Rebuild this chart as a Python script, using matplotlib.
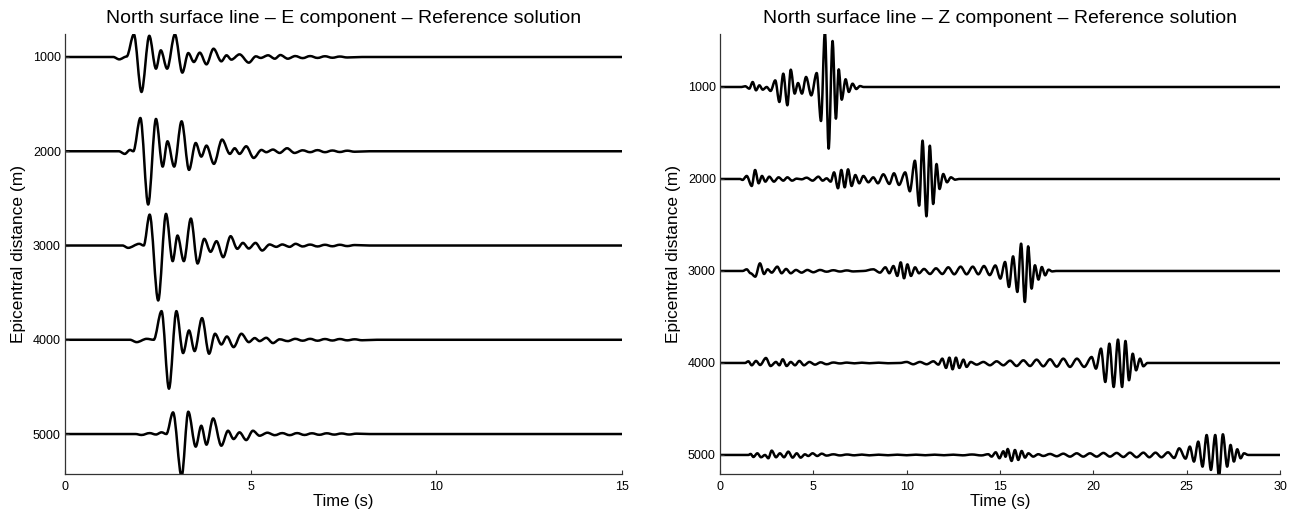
import matplotlib
matplotlib.use("Agg")
import numpy as np
import matplotlib.pyplot as plt
from matplotlib.path import Path
from matplotlib.patches import PathPatch

plt.rcParams["font.family"] = ["Liberation Sans", "DejaVu Sans"]

# ----------------------------
# Data: trace extrema, (time s, amplitude m, up positive)
# ----------------------------
distances = [1000, 2000, 3000, 4000, 5000]

# E component, 0-15 s
e_1000 = [(0, 0), (1.30, 0), (1.46, -25), (1.66, 5), (1.855, 240), (2.06, -371), (2.27, 225),
          (2.45, -124), (2.58, 71), (2.75, -124), (2.96, 240), (3.16, -166), (3.32, 42), (3.47, -53),
          (3.63, 46), (3.81, -78), (4.00, 88), (4.21, -46), (4.35, 18), (4.48, -28), (4.70, 28),
          (4.95, -60), (5.14, 7), (5.27, -10), (5.47, 18), (5.65, -18), (5.80, 21), (6.00, -18),
          (6.2, 10), (6.4, -12), (6.6, 10), (6.8, -10), (7.0, 8), (7.2, -8), (7.4, 5), (7.6, -5),
          (8.0, 0), (15, 0)]
e_2000 = [(0, 0), (1.45, 0), (1.61, -28), (1.75, 14), (1.84, 0), (2.03, 353), (2.24, -565),
          (2.45, 343), (2.63, -163), (2.76, 106), (2.94, -163), (3.14, 318), (3.34, -198), (3.52, 88),
          (3.67, -57), (3.81, 60), (4.01, -134), (4.23, 124), (4.44, -28), (4.57, 32), (4.70, -28),
          (4.88, 53), (5.08, -71), (5.29, 14), (5.42, -10), (5.60, 18), (5.78, -18), (5.98, 32),
          (6.18, -18), (6.4, 10), (6.6, -10), (6.8, 12), (7.0, -10), (7.2, 8), (7.4, -8), (7.6, 6),
          (7.8, -5), (8.2, 0), (15, 0)]
e_3000 = [(0, 0), (1.55, 0), (1.70, -25), (2.00, 18), (2.12, 0), (2.28, 328), (2.51, -583),
          (2.72, 336), (2.90, -166), (3.03, 106), (3.20, -166), (3.39, 286), (3.57, -191), (3.75, 71),
          (3.92, -67), (4.08, 46), (4.26, -124), (4.46, 99), (4.64, -35), (4.79, 28), (4.95, -32),
          (5.13, 28), (5.31, -53), (5.51, 11), (5.69, -14), (5.85, 11), (6.05, -14), (6.21, 18),
          (6.4, -10), (6.6, 10), (6.8, -10), (7.0, 8), (7.2, -8), (7.4, 8), (7.6, -6), (7.8, 5),
          (8.2, 0), (15, 0)]
e_4000 = [(0, 0), (1.75, 0), (1.93, -25), (2.20, 10), (2.39, 0), (2.60, 304), (2.80, -519),
          (3.00, 304), (3.18, -141), (3.34, 99), (3.49, -120), (3.69, 230), (3.88, -148), (4.04, 64),
          (4.21, -50), (4.36, 35), (4.54, -78), (4.75, 64), (4.95, -25), (5.11, 18), (5.24, -14),
          (5.42, 21), (5.60, -35), (5.78, 5), (6.0, -14), (6.2, 10), (6.4, -10), (6.6, 10),
          (6.8, -10), (7.0, 8), (7.2, -8), (7.4, 8), (7.6, -6), (7.8, 5), (8.0, -5), (8.4, 0), (15, 0)]
e_5000 = [(0, 0), (1.9, 0), (2.06, -10), (2.28, 10), (2.45, -5), (2.60, 18), (2.73, 0), (2.91, 230),
          (3.14, -450), (3.32, 237), (3.52, -134), (3.67, 88), (3.81, -113), (3.99, 166), (4.21, -124),
          (4.39, 35), (4.54, -53), (4.70, 18), (4.88, -64), (5.06, 35), (5.24, -18), (5.45, 14),
          (5.65, -12), (5.85, 10), (6.05, -12), (6.25, 10), (6.45, -10), (6.65, 8), (6.85, -8),
          (7.05, 8), (7.25, -6), (7.45, 6), (7.65, -5), (7.85, 4), (8.2, 0), (15, 0)]

# Z component, 0-30 s
z_1000 = [(0, 0), (1.16, 0), (1.35, 8), (1.57, -18), (1.75, 54), (1.93, -36), (2.11, 18), (2.29, -29),
          (2.50, 0), (2.71, -43), (2.96, 72), (3.18, -163), (3.39, 145), (3.61, -199), (3.79, 188),
          (4.00, -72), (4.18, 43), (4.39, -72), (4.61, 109), (4.89, -91), (5.18, 152), (5.41, -370),
          (5.62, 600), (5.82, -670), (6.03, 500), (6.21, -344), (6.36, 192), (6.52, -138), (6.73, 84),
          (6.90, -54), (7.10, 36), (7.30, -22), (7.50, 10), (7.70, 0), (30, 0)]
z_2000 = [(0, 0), (1.07, 0), (1.21, -10), (1.43, 33), (1.70, -76), (1.88, 98), (2.07, -47), (2.25, 33),
          (2.43, -29), (2.64, 25), (2.89, -29), (3.14, 18), (3.39, -18), (3.61, 18), (3.86, -18),
          (4.11, 4), (4.37, -4), (4.64, 14), (4.96, -18), (5.27, 25), (5.50, -18), (5.71, 7),
          (5.93, -29), (6.11, 72), (6.32, -101), (6.50, 98), (6.68, -91), (6.86, 105), (7.05, -76),
          (7.25, 43), (7.46, -47), (7.68, 33), (7.95, -36), (8.21, 18), (8.46, -47), (8.75, 51),
          (9.07, -54), (9.32, 62), (9.59, -65), (9.92, 72), (10.17, -134), (10.44, 199), (10.67, -290),
          (10.85, 417), (11.06, -406), (11.24, 362), (11.42, -272), (11.60, 163), (11.76, -109),
          (11.96, 54), (12.16, -36), (12.37, 18), (12.60, -8), (12.80, 0), (30, 0)]
z_3000 = [(0, 0), (1.21, 0), (1.43, 18), (1.64, -25), (1.89, -62), (2.14, 83), (2.36, -33), (2.55, 18),
          (2.77, -18), (3.07, 47), (3.30, -25), (3.54, 22), (3.79, -25), (4.07, 11), (4.37, -18),
          (4.68, 11), (5.0, -14), (5.36, 11), (5.71, -8), (6.07, 8), (6.43, -6), (6.79, 6), (7.14, -5),
          (7.68, 0), (8.21, 18), (8.57, -18), (8.86, 40), (9.07, -25), (9.29, 54), (9.50, -54),
          (9.68, 94), (9.86, -80), (10.04, 72), (10.23, -54), (10.45, 40), (10.66, -25), (10.93, 22),
          (11.25, -33), (11.57, 29), (11.91, -33), (12.23, 40), (12.55, -36), (12.89, 47), (13.21, -36),
          (13.54, 47), (13.84, -36), (14.14, 54), (14.45, -45), (14.75, 60), (15.02, -83), (15.27, 98),
          (15.48, -174), (15.70, 159), (15.93, -228), (16.13, 297), (16.33, -337), (16.51, 268),
          (16.69, -192), (16.87, 62), (17.06, -94), (17.24, 43), (17.42, -47), (17.6, 14), (17.8, -5),
          (18.0, 0), (30, 0)]
z_4000 = [(0, 0), (1.34, 0), (1.52, 18), (1.70, -25), (1.93, 22), (2.15, -22), (2.46, 54), (2.71, -33),
          (3.0, 11), (3.18, -25), (3.36, 40), (3.57, -33), (3.79, 11), (4.02, -25), (4.25, 22),
          (4.5, -25), (4.79, 11), (5.09, -18), (5.39, 7), (5.71, -14), (6.07, 5), (6.43, -5), (6.8, 4),
          (7.2, -4), (7.6, 3), (8.0, -3), (8.5, 3), (9.0, -3), (9.64, 0), (10.0, 11), (10.35, -14),
          (10.71, 11), (11.07, -14), (11.43, 18), (11.70, -18), (11.91, 47), (12.11, -54), (12.29, 58),
          (12.46, -69), (12.64, 58), (12.82, -54), (13.04, 36), (13.21, -43), (13.43, 11), (13.75, -18),
          (14.11, 11), (14.46, -25), (14.82, 18), (15.18, -25), (15.54, 25), (15.89, -33), (16.25, 29),
          (16.61, -33), (16.96, 36), (17.32, -36), (17.68, 40), (18.04, -40), (18.39, 47), (18.75, -43),
          (19.12, 47), (19.51, -43), (19.91, 65), (20.14, -62), (20.41, 156), (20.64, -207),
          (20.86, 210), (21.09, -261), (21.32, 254), (21.54, -261), (21.72, 239), (21.91, -188),
          (22.11, 101), (22.29, -80), (22.5, 47), (22.68, -36), (22.9, 0), (30, 0)]
z_5000 = [(0, 0), (1.52, 0), (1.64, 11), (1.79, -22), (2.0, 18), (2.2, -25), (2.41, 0), (2.59, -36),
          (2.77, 47), (3.0, -25), (3.21, 18), (3.43, -25), (3.66, 36), (3.89, -29), (4.11, 18),
          (4.32, -29), (4.55, 7), (4.73, -11), (4.96, 18), (5.21, -11), (5.45, 14), (5.71, -7),
          (6.07, 7), (6.43, -5), (6.8, 5), (7.2, -4), (7.6, 4), (8.0, -4), (8.5, 3), (9.0, -3),
          (9.5, 3), (10.0, -3), (10.5, 3), (11.0, -3), (11.5, 3), (12.0, -3), (12.5, 3), (13.0, -4),
          (13.5, 5), (14.0, -5), (14.37, 8), (14.55, -18), (14.77, 29), (14.97, -36), (15.18, 40),
          (15.30, -20), (15.41, 65), (15.62, -65), (15.80, 54), (15.98, -54), (16.16, 43), (16.34, -29),
          (16.52, 18), (16.78, -18), (17.05, 8), (17.32, -11), (17.68, 11), (18.04, -14), (18.39, 14),
          (18.75, -18), (19.11, 18), (19.46, -18), (19.82, 18), (20.18, -18), (20.54, 22), (20.89, -18),
          (21.25, 22), (21.61, -22), (21.96, 25), (22.32, -25), (22.68, 25), (23.0, -25), (23.33, 25),
          (23.65, -25), (24.0, 29), (24.33, -33), (24.6, 72), (24.94, -40), (25.17, 91), (25.39, -72),
          (25.62, 145), (25.85, -127), (26.07, 217), (26.30, -163), (26.53, 217), (26.73, -235),
          (26.94, 225), (27.17, -127), (27.35, 109), (27.53, -72), (27.71, 62), (27.89, -36),
          (28.07, 18), (28.3, 0), (30, 0)]

e_traces = [e_1000, e_2000, e_3000, e_4000, e_5000]
z_traces = [z_1000, z_2000, z_3000, z_4000, z_5000]

W, H = 1299, 512
fig = plt.figure(figsize=(W / 100, H / 100), dpi=100)
ax1 = fig.add_axes([65 / W, 1 - 474 / H, 557 / W, 440 / H])
ax2 = fig.add_axes([720 / W, 1 - 474 / H, 560 / W, 440 / H])


def trace_path(t, y):
    # smooth cubic segments between extrema (flat tangent at each extremum)
    verts = [(t[0], y[0])]
    codes = [Path.MOVETO]
    for i in range(1, len(t)):
        dt = (t[i] - t[i - 1]) / 3
        verts += [(t[i - 1] + dt, y[i - 1]), (t[i] - dt, y[i]), (t[i], y[i])]
        codes += [Path.CURVE4] * 3
    return Path(verts, codes)


def draw(ax, traces, tmax, ylim, title):
    for d, tr in zip(distances, traces):
        t, a = zip(*tr)
        y = d - np.array(a, dtype=float)
        ax.add_patch(PathPatch(trace_path(t, y), fill=False, edgecolor="black",
                               lw=1.8, joinstyle="round", capstyle="round"))
    ax.set_xlim(0, tmax)
    ax.set_ylim(*ylim)
    ax.set_yticks(distances)
    ax.set_xticks(np.arange(0, tmax + 1, 5))
    for s in ("top", "right"):
        ax.spines[s].set_visible(False)
    for s in ("left", "bottom"):
        ax.spines[s].set_color("#333333")
        ax.spines[s].set_linewidth(0.9)
    ax.tick_params(direction="in", length=3, width=0.8, labelsize=9, color="#333333")
    ax.tick_params(axis="x", pad=5)
    ax.tick_params(axis="y", pad=3)
    ax.set_title(title, fontsize=14, pad=8)
    ax.set_xlabel("Time (s)", fontsize=12, labelpad=1)
    ax.set_ylabel("Epicentral distance (m)", fontsize=12.5, labelpad=5)


draw(ax1, e_traces, 15, (5424, 756), "North surface line \u2013 E component \u2013 Reference solution")
draw(ax2, z_traces, 30, (5207, 424), "North surface line \u2013 Z component \u2013 Reference solution")

fig.savefig("out.png", dpi=100)
